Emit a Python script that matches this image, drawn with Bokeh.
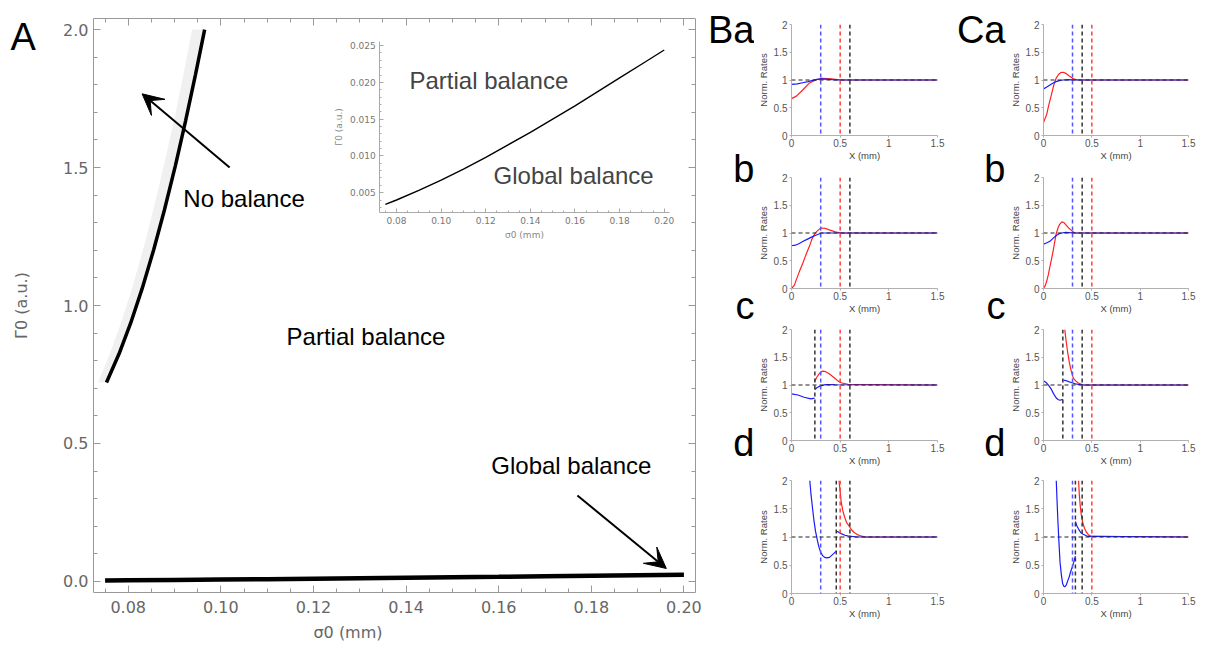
import numpy as np
from bokeh.plotting import figure
from bokeh.layouts import row, column
from bokeh.models import (Range1d, LinearAxis, FixedTicker, Label, Arrow, VeeHead,
                          Span, PrintfTickFormatter, NumeralTickFormatter)
from bokeh.embed import file_html
from bokeh.resources import INLINE

nan = float("nan")

# ---------------- Panel A data ----------------
sigma0 = [0.075, 0.08, 0.09, 0.10, 0.11, 0.12, 0.13, 0.14, 0.15, 0.16, 0.17, 0.18, 0.19, 0.20]
gamma_global = [0.0034, 0.0040, 0.0053, 0.0067, 0.0082, 0.0098, 0.0115, 0.0132, 0.0150,
                0.0168, 0.0187, 0.0206, 0.0225, 0.0244]

sigma_nb = [0.0753, 0.0780, 0.0805, 0.0830, 0.0855, 0.0878, 0.0902, 0.0924, 0.0945, 0.0965]
gamma_nb = [0.721, 0.824, 0.935, 1.061, 1.202, 1.345, 1.508, 1.670, 1.835, 2.0]
sigma_nb_shade = [0.0735, 0.0760, 0.0784, 0.0808, 0.0832, 0.0854, 0.0877, 0.0899, 0.0919, 0.0938]

a_xticks = [0.08, 0.10, 0.12, 0.14, 0.16, 0.18, 0.20]
a_xminor = [0.075, 0.085, 0.09, 0.095, 0.105, 0.11, 0.115, 0.125, 0.13, 0.135, 0.145, 0.15,
            0.155, 0.165, 0.17, 0.175, 0.185, 0.19, 0.195]
a_yticks = [0.0, 0.5, 1.0, 1.5, 2.0]
a_yminor = [0.1, 0.2, 0.3, 0.4, 0.6, 0.7, 0.8, 0.9, 1.1, 1.2, 1.3, 1.4, 1.6, 1.7, 1.8, 1.9]
in_yticks = [0.005, 0.010, 0.015, 0.020, 0.025]
in_yminor = [0.003, 0.004, 0.006, 0.007, 0.008, 0.009, 0.011, 0.012, 0.013, 0.014, 0.016,
             0.017, 0.018, 0.019, 0.021, 0.022, 0.023, 0.024]

# ---------------- Panels B / C data ----------------
ba_red_x = [0, 0.05, 0.115, 0.18, 0.25, 0.31, 0.41, 0.51, 1.5]
ba_red_y = [0.665, 0.71, 0.82, 0.94, 1.0, 1.03, 1.02, 1.0, 1.0]
ba_blue_x = [0, 0.06, 0.115, 0.17, 0.21, 0.26, 0.30, 0.36, 0.45, 1.5]
ba_blue_y = [0.92, 0.93, 0.95, 0.97, 0.99, 1.01, 1.02, 1.015, 1.0, 1.0]

bb_red_x = [0, 0.03, 0.05, 0.08, 0.115, 0.14, 0.165, 0.19, 0.21, 0.24, 0.26, 0.29, 0.31,
            0.345, 0.38, 0.45, 0.51, 1.5]
bb_red_y = [0, 0.06, 0.16, 0.30, 0.45, 0.57, 0.68, 0.79, 0.89, 0.99, 1.03, 1.075, 1.09,
            1.085, 1.06, 1.02, 1.0, 1.0]
bb_blue_x = [0, 0.04, 0.08, 0.12, 0.165, 0.21, 0.25, 0.31, 1.5]
bb_blue_y = [0.77, 0.78, 0.81, 0.85, 0.89, 0.93, 0.96, 1.0, 1.0]

bc_red_x = [0, 0.24, nan, 0.24, 0.26, 0.28, 0.30, 0.32, 0.35, 0.38, 0.41, 0.445, 0.48, 0.51, 0.58, 1.5]
bc_red_y = [0, 0, nan, 1.07, 1.14, 1.19, 1.23, 1.25, 1.24, 1.21, 1.17, 1.12, 1.07, 1.04, 1.01, 1.0]
bc_blue_x = [0, 0.066, 0.13, 0.2, 0.237, nan, 0.24, 0.26, 0.28, 0.31, 0.35, 0.445, 1.5]
bc_blue_y = [0.84, 0.82, 0.78, 0.75, 0.765, nan, 0.92, 0.95, 0.97, 0.99, 1.006, 1.005, 1.0]

bd_red_x = [0, 0.465, nan, 0.488, 0.50, 0.51, 0.525, 0.544, 0.565, 0.593, 0.62, 0.643, 0.68,
            0.71, 0.76, 1.5]
bd_red_y = [0, 0, nan, 2.0, 1.8, 1.63, 1.48, 1.36, 1.26, 1.19, 1.12, 1.08, 1.04, 1.02, 1.0, 1.0]
bd_blue_x = [0.188, 0.20, 0.214, 0.23, 0.247, 0.265, 0.28, 0.30, 0.32, 0.34, 0.363, 0.39, 0.41,
             0.435, 0.46, nan, 0.46, 0.48, 0.51, 0.55, 0.577, 0.62, 0.676, 1.5]
bd_blue_y = [2.0, 1.76, 1.54, 1.3, 1.1, 0.95, 0.835, 0.73, 0.67, 0.64, 0.63, 0.64, 0.67,
             0.71, 0.75, nan, 1.1, 1.09, 1.06, 1.03, 1.02, 1.01, 1.0, 1.0]

ca_red_x = [0, 0.015, 0.033, 0.055, 0.082, 0.105, 0.13, 0.155, 0.18, 0.205, 0.23, 0.26, 0.3,
            0.33, 0.36, 1.5]
ca_red_y = [0.235, 0.3, 0.38, 0.55, 0.735, 0.9, 1.03, 1.1, 1.135, 1.14, 1.12, 1.08, 1.03,
            1.01, 1.0, 1.0]
ca_blue_x = [0, 0.03, 0.066, 0.1, 0.13, 0.165, 0.2, 0.26, 0.32, 1.5]
ca_blue_y = [0.84, 0.87, 0.91, 0.945, 0.97, 0.99, 1.0, 1.006, 1.0, 1.0]

cb_red_x = [0, 0.02, 0.033, 0.05, 0.066, 0.083, 0.1, 0.115, 0.13, 0.15, 0.165, 0.19, 0.21,
            0.23, 0.255, 0.28, 0.305, 0.33, 1.5]
cb_red_y = [0, 0.06, 0.13, 0.25, 0.39, 0.53, 0.68, 0.83, 0.98, 1.09, 1.15, 1.2, 1.19, 1.15,
            1.1, 1.06, 1.02, 1.0, 1.0]
cb_blue_x = [0, 0.03, 0.066, 0.09, 0.115, 0.14, 0.165, 0.2, 0.23, 0.33, 1.5]
cb_blue_y = [0.8, 0.82, 0.85, 0.89, 0.93, 0.965, 0.99, 1.005, 1.01, 1.0, 1.0]

cc_red_x = [0, 0.2, nan, 0.22, 0.235, 0.25, 0.265, 0.28, 0.295, 0.31, 0.335, 0.36, 0.41, 1.5]
cc_red_y = [0, 0, nan, 2.0, 1.78, 1.59, 1.43, 1.3, 1.2, 1.12, 1.07, 1.035, 1.0, 1.0]
cc_blue_x = [0, 0.015, 0.033, 0.055, 0.082, 0.105, 0.13, 0.15, 0.17, 0.2, nan, 0.205, 0.23,
             0.26, 0.295, 0.33, 0.4, 1.5]
cc_blue_y = [1.075, 1.06, 1.035, 0.99, 0.92, 0.84, 0.77, 0.74, 0.725, 0.74, nan, 1.09, 1.08,
             1.06, 1.04, 1.02, 1.0, 1.0]

cd_red_x = [0, 0.33, nan, 0.363, 0.37, 0.38, 0.39, 0.405, 0.425, 0.445, 0.47, 0.495, 1.5]
cd_red_y = [0, 0, nan, 2.0, 1.76, 1.55, 1.4, 1.26, 1.15, 1.08, 1.03, 1.01, 1.0]
cd_blue_x = [0.132, 0.14, 0.148, 0.16, 0.171, 0.185, 0.198, 0.21, 0.22, 0.235, 0.247, 0.265,
             0.28, 0.3, 0.313, 0.33, nan, 0.33, 0.345, 0.363, 0.385, 0.41, 0.46, 1.5]
cd_blue_y = [2.0, 1.65, 1.32, 0.9, 0.555, 0.33, 0.175, 0.13, 0.117, 0.15, 0.205, 0.29,
             0.38, 0.48, 0.555, 0.66, nan, 1.275, 1.2, 1.14, 1.08, 1.05, 1.01, 1.0]

# dashed vertical markers (blue, red, black) per panel
b_vblue = [[0.3], [0.3], [0.3], [0.3]]
b_vred = [[0.5], [0.5], [0.5], [0.5]]
b_vblack = [[0.6], [0.6], [0.24, 0.6], [0.46, 0.6]]
c_vblue = [[0.3], [0.3], [0.3], [0.3]]
c_vred = [[0.5], [0.5], [0.5], [0.5]]
c_vblack = [[0.4], [0.4], [0.2, 0.4], [0.33, 0.4]]
sub_xticks = [0, 0.5, 1, 1.5]
sub_yticks = [0, 0.5, 1, 1.5, 2]

B_letters = ["Ba", "b", "c", "d"]
C_letters = ["Ca", "b", "c", "d"]

# ---------------- layout constants (pixels) ----------------
A_W, A_H = 704, 654
A_FR, A_FB = 695, 592          # frame right / bottom of panel A (frame starts at 0,0)
AX0_PX, AX1_PX = 93, 695       # x pixel of 0.0725 / 0.2025
AY0_PX, AY1_PX = 592, 18       # y pixel of -0.04 / 2.04
XLIM = (0.0725, 0.2025)
YLIM = (-0.04, 2.04)


def lin(v0, v1, p0, p1, p):
    return v0 + (p - p0) * (v1 - v0) / (p1 - p0)


# ---------------- Panel A ----------------
pA = figure(width=A_W, height=A_H,
            x_range=Range1d(lin(XLIM[0], XLIM[1], AX0_PX, AX1_PX, 0), XLIM[1]),
            y_range=Range1d(YLIM[0], lin(YLIM[0], YLIM[1], AY0_PX, AY1_PX, 0)),
            output_backend="svg", toolbar_location=None,
            min_border_left=0, min_border_right=A_W - A_FR, min_border_top=0,
            min_border_bottom=A_H - A_FB,
            x_axis_label="σ0 (mm)", y_axis_label="Γ0 (a.u.)")
pA.grid.visible = False
pA.outline_line_color = None


def style_main(ax):
    ax.axis_line_color = "#999999"
    ax.major_tick_line_color = "#999999"
    ax.minor_tick_line_color = "#999999"
    ax.major_tick_in = 7
    ax.major_tick_out = 0
    ax.minor_tick_in = 4
    ax.minor_tick_out = 0
    ax.major_label_text_color = "#666666"
    ax.major_label_text_font = "DejaVu Sans"
    ax.major_label_text_font_size = "16px"
    ax.axis_label_text_color = "#666666"
    ax.axis_label_text_font = "DejaVu Sans"
    ax.axis_label_text_font_size = "16px"
    ax.axis_label_text_font_style = "normal"


xtick = FixedTicker(ticks=a_xticks, minor_ticks=a_xminor)
ytick = FixedTicker(ticks=a_yticks, minor_ticks=a_yminor)
pA.xaxis.ticker = xtick
pA.yaxis.ticker = ytick
pA.xaxis.formatter = PrintfTickFormatter(format="%.2f")
pA.yaxis.formatter = PrintfTickFormatter(format="%.1f")
for ax in pA.xaxis + pA.yaxis:
    style_main(ax)
pA.xaxis.bounds = XLIM
pA.xaxis.major_label_standoff = 8
pA.xaxis.axis_label_standoff = 7
pA.yaxis.fixed_location = XLIM[0]
pA.yaxis.bounds = YLIM
pA.yaxis.major_label_standoff = 5
pA.yaxis.axis_label_standoff = 29

top_ax = LinearAxis(ticker=xtick, fixed_location=YLIM[1], bounds=XLIM)
right_ax = LinearAxis(ticker=ytick, bounds=YLIM)
for ax in (top_ax, right_ax):
    style_main(ax)
    ax.major_label_text_font_size = "1px"
    ax.major_label_text_color = None
    ax.major_label_standoff = 0
pA.add_layout(top_ax, "above")
pA.add_layout(right_ax, "right")

# shaded sliver and curves
band_x = list(sigma_nb_shade) + list(sigma_nb[::-1])
band_y = list(gamma_nb) + list(gamma_nb[::-1])
pA.patch(band_x, band_y, fill_color="#f0f0f0", line_color=None)
pA.line(sigma_nb, gamma_nb, line_color="black", line_width=3.5)
pA.line(sigma0, gamma_global, line_color="black", line_width=4.5)

FONT_TXT = "Liberation Sans"
for txt, x, y in [("No balance", 0.0919, 1.388), ("Partial balance", 0.1142, 0.888),
                  ("Global balance", 0.1584, 0.42)]:
    pA.add_layout(Label(x=x, y=y, text=txt, text_font=FONT_TXT, text_font_size="24px",
                        text_baseline="middle", text_align="left", text_color="black"))

pA.add_layout(Arrow(x_start=0.1019, y_start=1.50, x_end=0.0830, y_end=1.767,
                    line_width=2, line_color="black",
                    end=VeeHead(size=21, fill_color="black", line_color="black")))
pA.add_layout(Arrow(x_start=0.1770, y_start=0.3115, x_end=0.1962, y_end=0.047,
                    line_width=2, line_color="black",
                    end=VeeHead(size=21, fill_color="black", line_color="black")))

pA.add_layout(Label(x=lin(XLIM[0], XLIM[1], AX0_PX, AX1_PX, 10),
                    y=lin(YLIM[0], YLIM[1], AY0_PX, AY1_PX, 36),
                    text="A", text_font=FONT_TXT, text_font_size="38px",
                    text_baseline="alphabetic", text_align="left", text_color="black"))

# ---- inset, drawn on extra ranges of panel A ----
IX = (0.0725, 0.2025, 379.3, 669.3)  # values and their pixel positions
IY = (0.0023, 0.0256, 212.0, 40.7)
pA.extra_x_ranges = {"ix": Range1d(lin(IX[0], IX[1], IX[2], IX[3], 0),
                                   lin(IX[0], IX[1], IX[2], IX[3], A_FR))}
pA.extra_y_ranges = {"iy": Range1d(lin(IY[0], IY[1], IY[2], IY[3], A_FB),
                                   lin(IY[0], IY[1], IY[2], IY[3], 0))}


def style_inset(ax):
    ax.axis_line_color = "#aaaaaa"
    ax.major_tick_line_color = "#aaaaaa"
    ax.minor_tick_line_color = "#aaaaaa"
    ax.major_tick_in = 4
    ax.major_tick_out = 0
    ax.minor_tick_in = 2
    ax.minor_tick_out = 0
    ax.major_label_text_color = "#777777"
    ax.major_label_text_font = "DejaVu Sans"
    ax.major_label_text_font_size = "9px"
    ax.major_label_standoff = 4
    ax.axis_label_text_color = "#888888"
    ax.axis_label_text_font = "DejaVu Sans"
    ax.axis_label_text_font_size = "9px"
    ax.axis_label_text_font_style = "normal"
    ax.axis_label_standoff = 3


inx = LinearAxis(x_range_name="ix", y_range_name="iy", fixed_location=IY[0],
                 bounds=(IX[0], IX[1]), ticker=FixedTicker(ticks=a_xticks, minor_ticks=a_xminor),
                 formatter=PrintfTickFormatter(format="%.2f"), axis_label="σ0 (mm)")
iny = LinearAxis(x_range_name="ix", y_range_name="iy", fixed_location=IX[0],
                 bounds=(IY[0], IY[1]), ticker=FixedTicker(ticks=in_yticks, minor_ticks=in_yminor),
                 formatter=PrintfTickFormatter(format="%.3f"), axis_label="Γ0 (a.u.)")
style_inset(inx)
style_inset(iny)
pA.add_layout(inx, "below")
pA.add_layout(iny, "left")
pA.line(sigma0, gamma_global, x_range_name="ix", y_range_name="iy",
        line_color="black", line_width=1.4)
pA.add_layout(Label(x=0.0858, y=0.0203, x_range_name="ix", y_range_name="iy",
                    text="Partial balance", text_font=FONT_TXT, text_font_size="24px",
                    text_baseline="middle"))
pA.add_layout(Label(x=0.1235, y=0.0073, x_range_name="ix", y_range_name="iy",
                    text="Global balance", text_font=FONT_TXT, text_font_size="24px",
                    text_baseline="middle"))


# ---------------- small panels ----------------
ROW_H = [163, 153, 152, 186]
ROW_TOP = [24, 14, 13, 12]
ROW_BOT = [26, 26, 26, 61]
FRAME_TOPS = [24, 177, 329, 480]


def sub(rx, ry, bx, by, vb, vr, vk, w, bl, br, h, bt, bb):
    f = figure(width=w, height=h, x_range=Range1d(0, 1.5), y_range=Range1d(0, 2),
               output_backend="svg", toolbar_location=None,
               min_border_left=bl, min_border_right=br, min_border_top=bt, min_border_bottom=bb,
               x_axis_label="X (mm)", y_axis_label="Norm. Rates")
    f.grid.visible = False
    f.outline_line_color = None
    f.xaxis.ticker = FixedTicker(ticks=sub_xticks)
    f.yaxis.ticker = FixedTicker(ticks=sub_yticks)
    for ax in f.xaxis + f.yaxis:
        ax.formatter = NumeralTickFormatter(format="0.[0]")
        ax.axis_line_color = "#b0b0b0"
        ax.major_tick_line_color = "#b0b0b0"
        ax.minor_tick_line_color = None
        ax.major_tick_in = 0
        ax.major_tick_out = 2
        ax.major_label_text_font = "Liberation Sans"
        ax.major_label_text_font_size = "10px"
        ax.major_label_text_color = "#555555"
        ax.axis_label_text_font = "Liberation Sans"
        ax.axis_label_text_font_size = "9.5px"
        ax.axis_label_text_color = "#444444"
        ax.axis_label_text_font_style = "normal"
    f.xaxis.major_label_standoff = 1
    f.xaxis.axis_label_standoff = 0
    f.yaxis.major_label_standoff = 2
    f.yaxis.axis_label_standoff = 2
    f.line(np.array(rx, dtype=float), np.array(ry, dtype=float), line_color="#ff2020", line_width=1.2)
    f.line(np.array(bx, dtype=float), np.array(by, dtype=float), line_color="#1a1aff", line_width=1.2)
    for v in vb:
        f.add_layout(Span(location=v, dimension="height", line_color="#5555ff",
                          line_dash="4 3", line_width=1.5))
    for v in vr:
        f.add_layout(Span(location=v, dimension="height", line_color="#ff4040",
                          line_dash="4 3", line_width=1.5))
    for v in vk:
        f.add_layout(Span(location=v, dimension="height", line_color="#333333",
                          line_dash="4 3", line_width=1.5))
    f.add_layout(Span(location=1, dimension="width", line_color="#222222",
                      line_dash="4 3", line_width=1.2))
    return f


def letter_fig(w, letters, right_x):
    f = figure(width=w, height=A_H, x_range=Range1d(0, w), y_range=Range1d(A_H, 0),
               output_backend="svg", toolbar_location=None, min_border=0,
               x_axis_type=None, y_axis_type=None)
    f.grid.visible = False
    f.outline_line_color = None
    for t, top in zip(letters, FRAME_TOPS):
        f.add_layout(Label(x=right_x, y=top + 9, text=t, text_font="Liberation Sans",
                           text_font_size="38px", text_align="right",
                           text_baseline="alphabetic", text_color="black"))
    return f


B_data = [(ba_red_x, ba_red_y, ba_blue_x, ba_blue_y), (bb_red_x, bb_red_y, bb_blue_x, bb_blue_y),
          (bc_red_x, bc_red_y, bc_blue_x, bc_blue_y), (bd_red_x, bd_red_y, bd_blue_x, bd_blue_y)]
C_data = [(ca_red_x, ca_red_y, ca_blue_x, ca_blue_y), (cb_red_x, cb_red_y, cb_blue_x, cb_blue_y),
          (cc_red_x, cc_red_y, cc_blue_x, cc_blue_y), (cd_red_x, cd_red_y, cd_blue_x, cd_blue_y)]

colB, colC = [], []
for i in range(4):
    rx, ry, bx, by = B_data[i]
    colB.append(sub(rx, ry, bx, by, b_vblue[i], b_vred[i], b_vblack[i],
                    202, 31, 19, ROW_H[i], ROW_TOP[i], ROW_BOT[i]))
    rx, ry, bx, by = C_data[i]
    colC.append(sub(rx, ry, bx, by, c_vblue[i], c_vred[i], c_vblack[i],
                    192, 31, 10, ROW_H[i], ROW_TOP[i], ROW_BOT[i]))

letB = letter_fig(50, B_letters, 50)
letC = letter_fig(50, C_letters, 49)

layout = row(pA, letB, column(*colB), letC, column(*colC))
open("out.html", "w").write(file_html(layout, INLINE))
